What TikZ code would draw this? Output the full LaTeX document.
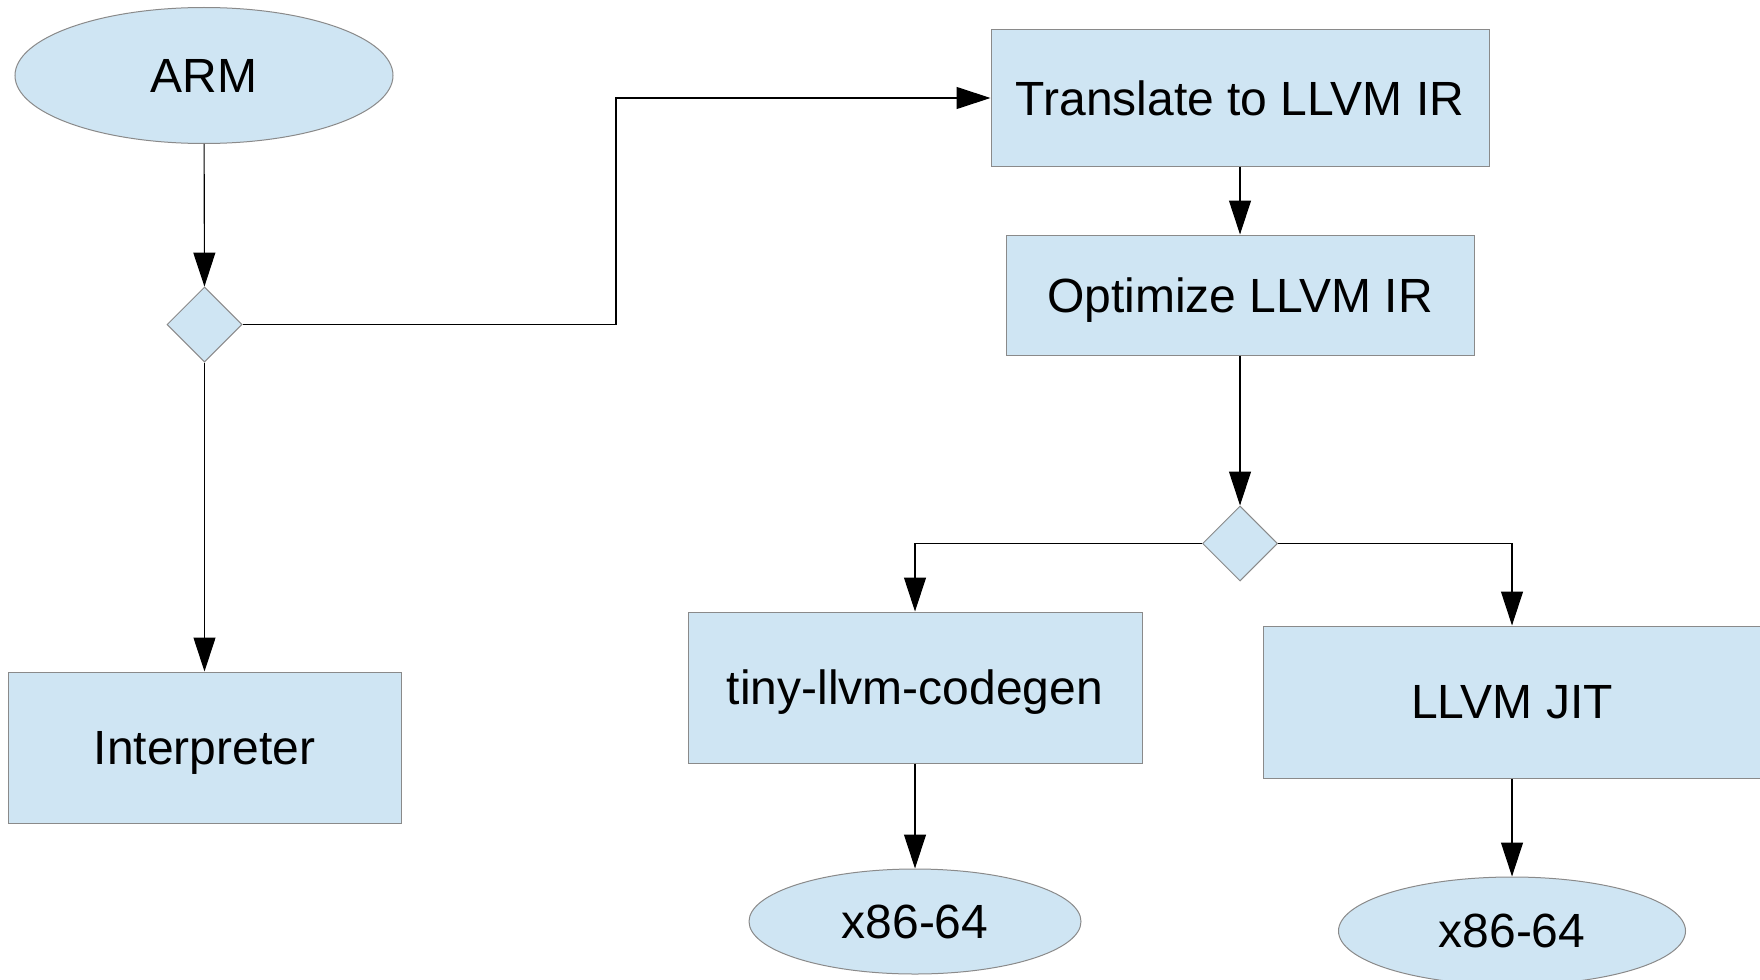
\documentclass[tikz,border=0pt]{standalone}
\usepackage{fontspec}
\setmainfont{Liberation Sans}
\usetikzlibrary{shapes.geometric,arrows.meta,calc}
\definecolor{boxfill}{HTML}{CFE5F3}
\definecolor{boxline}{HTML}{8A8A8A}
\tikzset{
  base/.style={draw=boxline,fill=boxfill,line width=1pt,inner sep=0pt,font=\fontsize{48}{56}\selectfont,text=black,text depth=0pt},
  boxnode/.style={base,rectangle},
  ovalnode/.style={base,ellipse},
  decnode/.style={base,diamond,minimum width=75pt,minimum height=75pt},
  arr/.style={draw=black,line width=1.1pt,-{Triangle[length=34pt,width=22pt]}},
}
\begin{document}
\begin{tikzpicture}[x=1pt,y=-1pt]
\useasboundingbox (0,0) rectangle (1760,979);
\node[ovalnode,minimum width=378pt,minimum height=136pt] (arm) at (204,75.5) {ARM};
\node[decnode] (d1) at (204.5,324.5) {};
\node[boxnode,minimum width=393pt,minimum height=151pt] (interp) at (204.5,747.5) {Interpreter};
\node[boxnode,minimum width=498pt,minimum height=136pt] (trans) at (1240,98) {Translate to LLVM IR};
\node[boxnode,minimum width=468pt,minimum height=120pt] (opt) at (1240,295) {Optimize LLVM IR};
\node[decnode] (d2) at (1240,543.5) {};
\node[boxnode,minimum width=454pt,minimum height=151pt] (tiny) at (915,687.5) {tiny-llvm-codegen};
\node[boxnode,minimum width=498pt,minimum height=152pt] (jit) at (1512,702) {LLVM JIT};
\node[ovalnode,minimum width=332pt,minimum height=105pt] (x1) at (915,921.5) {x86-64};
\node[ovalnode,minimum width=347pt,minimum height=108pt] (x2) at (1512,931) {x86-64};
\coordinate (bx) at (616,324.5);
\draw[arr] (arm) -- (d1);
\draw[arr] (d1.south) -- (interp.north);
\draw[arr] (d1.east) -- (bx) |- (trans.west);
\draw[arr] (trans.south) -- (opt.north);
\draw[arr] (opt.south) -- (d2.north);
\draw[arr] (d2.west) -| (tiny.north);
\draw[arr] (d2.east) -| (jit.north);
\draw[arr] (tiny.south) -- (x1.north);
\draw[arr] (jit.south) -- (x2.north);
\end{tikzpicture}
\end{document}
